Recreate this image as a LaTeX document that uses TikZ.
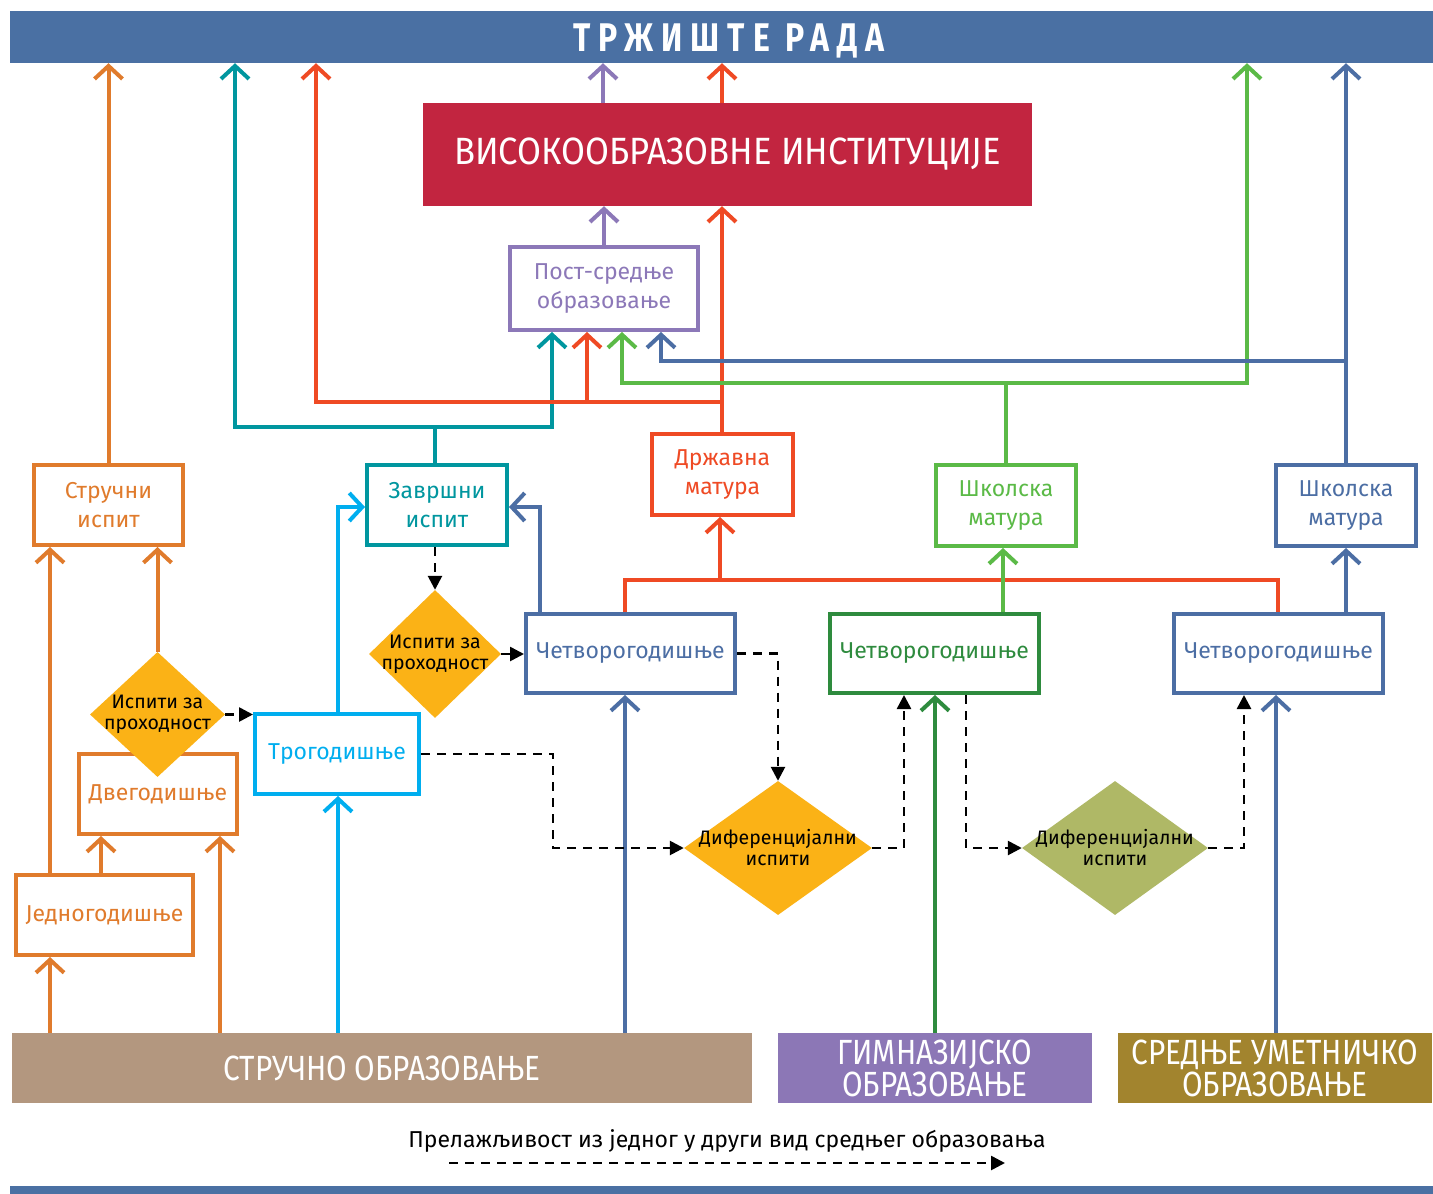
\documentclass[tikz,border=0pt]{standalone}
\usepackage{fontspec}
\setmainfont{Fira Sans}
\newfontfamily\bxfont{Fira Sans}
\newfontfamily\cfont[FakeStretch=0.85]{Fira Sans}
\newfontfamily\vfont[FakeStretch=0.91]{Fira Sans}
\newfontfamily\ttlfont[FakeStretch=0.8,LetterSpace=20]{Fira Sans}
\usetikzlibrary{arrows.meta,shapes.geometric}
\definecolor{topblue}{HTML}{4A70A3}
\definecolor{crim}{HTML}{C22540}
\definecolor{purp}{HTML}{8C78B8}
\definecolor{orng}{HTML}{E07B2C}
\definecolor{teal2}{HTML}{00969F}
\definecolor{redd}{HTML}{EF4A24}
\definecolor{lgreen}{HTML}{5BBA47}
\definecolor{blu}{HTML}{4C6EA4}
\definecolor{cyan2}{HTML}{00AEEF}
\definecolor{dgreen}{HTML}{2E8B3E}
\definecolor{yel}{HTML}{FBB216}
\definecolor{olive2}{HTML}{AFB866}
\definecolor{tan2}{HTML}{B3977F}
\definecolor{gymp}{HTML}{8C77B6}
\definecolor{artg}{HTML}{A2842E}
\begin{document}
\begin{tikzpicture}[x=1pt,y=-1pt,
  >={Straight Barb[length=13pt,width=28pt]},
  bx/.style={draw=#1,text=#1,line width=4pt,fill=white,align=center,inner sep=0pt,font=\bxfont\fontsize{23}{29}\selectfont},
  bar/.style={fill=#1,text=white,inner sep=0pt,align=center,font=\cfont\fontsize{35}{32}\selectfont},
  cn/.style={draw=#1,line width=4pt},
  dsh/.style={draw=black,line width=2.6pt,dash pattern=on 9pt off 7pt,-{Triangle[length=14pt,width=14pt]}},
  dmd/.style={diamond,fill=#1,inner sep=0pt},
  dtext/.style={font=\bxfont\fontsize{19.5}{21}\selectfont,align=center,text=black}]
\useasboundingbox (0,0) rectangle (1433,1194);
\fill[white] (0,0) rectangle (1433,1194);
% x / y helper coordinates
\foreach \xx in {50,101,157,220,235,316,338,435,540,552,553,587,603,622,625,661,720,722,778,904,935,966,1003,1006,1244,1247,1276,1278,1346}{\coordinate (x\xx) at (\xx,0);}
\foreach \yy in {361,383,402,427,507,580,848}{\coordinate (y\yy) at (0,\yy);}
% bars
\node[fill=topblue,minimum width=1423pt,minimum height=52pt,inner sep=0pt] (market) at (721.5,37) {};
\node[inner sep=0pt,text=white,text height=28pt,text depth=0pt,font=\ttlfont\bfseries\fontsize{40}{40}\selectfont] (title) at (729,37) {ТРЖИШТЕ РАДА};
\node[fill=topblue,minimum width=1423pt,minimum height=8pt,inner sep=0pt] (botline) at (721.5,1190) {};
\node[fill=crim,minimum width=609pt,minimum height=103pt,inner sep=0pt,text=white,font=\vfont\fontsize{38}{40}\selectfont] (ved) at (727.5,154.5) {ВИСОКООБРАЗОВНЕ ИНСТИТУЦИЈЕ};
\node[bar=tan2,minimum width=740pt,minimum height=70pt] (strucno) at (382,1068) {СТРУЧНО ОБРАЗОВАЊЕ};
\node[bar=gymp,minimum width=314pt,minimum height=70pt] (gim) at (935,1068) {ГИМНАЗИЈСКО\\ОБРАЗОВАЊЕ};
\node[bar=artg,minimum width=314pt,minimum height=70pt] (umet) at (1275,1068) {СРЕДЊЕ УМЕТНИЧКО\\ОБРАЗОВАЊЕ};
% boxes
\node[bx=purp,minimum width=188pt,minimum height=83pt] (post) at (604,288.5) {Пост-средње\\образовање};
\node[bx=orng,minimum width=149pt,minimum height=80pt] (strucni) at (108.5,505) {Стручни\\испит};
\node[bx=teal2,minimum width=140pt,minimum height=80pt] (zavrsni) at (437,505) {Завршни\\испит};
\node[bx=redd,minimum width=141pt,minimum height=81pt] (drzavna) at (722.5,474.5) {Државна\\матура};
\node[bx=lgreen,minimum width=140pt,minimum height=81pt] (skolG) at (1006,505.5) {Школска\\матура};
\node[bx=blu,minimum width=140pt,minimum height=81pt] (skolB) at (1346,505.5) {Школска\\матура};
\node[bx=blu,minimum width=209pt,minimum height=79pt] (cetv1) at (630.5,653.5) {Четворогодишње};
\node[bx=dgreen,minimum width=209pt,minimum height=79pt] (cetv2) at (934.5,653.5) {Четворогодишње};
\node[bx=blu,minimum width=209pt,minimum height=79pt] (cetv3) at (1278.5,653.5) {Четворогодишње};
\node[bx=cyan2,minimum width=164pt,minimum height=80pt] (trogod) at (337,754) {Трогодишње};
\node[bx=orng,minimum width=158pt,minimum height=80pt] (dvegod) at (158,794) {Двегодишње};
\node[bx=orng,minimum width=177pt,minimum height=80pt] (jednogod) at (104.5,915) {Једногодишње};
% diamonds
\node[dmd=yel,minimum width=135pt,minimum height=125pt] (dp1) at (157.5,714.5) {};
\node[dtext] (dp1t) at (dp1) {Испити за\\проходност};
\node[dmd=yel,minimum width=132pt,minimum height=128pt] (dp2) at (435,654) {};
\node[dtext] (dp2t) at (dp2) {Испити за\\проходност};
\node[dmd=yel,minimum width=188pt,minimum height=134pt] (df1) at (778,848) {};
\node[dtext] (df1t) at (df1) {Диференцијални\\испити};
\node[dmd=olive2,minimum width=186pt,minimum height=134pt] (df2) at (1115,848) {};
\node[dtext] (df2t) at (df2) {Диференцијални\\испити};
% orange connectors
\draw[cn=orng,->] (strucni.north) -- (strucni.north |- market.south);
\draw[cn=orng,->] (x50 |- strucno.north) -- (x50 |- jednogod.south);
\draw[cn=orng,->] (x50 |- jednogod.north) -- (x50 |- strucni.south);
\draw[cn=orng,->] (x101 |- jednogod.north) -- (x101 |- dvegod.south);
\draw[cn=orng,->] (x220 |- strucno.north) -- (x220 |- dvegod.south);
\draw[cn=orng,->] (dp1.north) -- (dp1.north |- strucni.south);
% cyan
\draw[cn=cyan2,->] (x338 |- strucno.north) -- (x338 |- trogod.south);
\draw[cn=cyan2,->] (x338 |- trogod.north) |- (zavrsni.west |- y507);
% teal
\draw[cn=teal2,<->] (x235 |- market.south) |- (x552 |- y427) -- (x552 |- post.south);
\draw[cn=teal2] (x435 |- zavrsni.north) -- (x435 |- y427);
% red
\draw[cn=redd,->] (x722 |- drzavna.north) -- (x722 |- ved.south);
\draw[cn=redd,->] (x722 |- ved.north) -- (x722 |- market.south);
\draw[cn=redd,<-] (x316 |- market.south) |- (x722 |- y402);
\draw[cn=redd,->] (x587 |- y402) -- (x587 |- post.south);
\draw[cn=redd] (x625 |- cetv1.north) |- (x1278 |- y580) -- (x1278 |- cetv3.north);
\draw[cn=redd,->] (x720 |- y580) -- (x720 |- drzavna.south);
% purple
\draw[cn=purp,->] (post.north) -- (post.north |- ved.south);
\draw[cn=purp,->] (x603 |- ved.north) -- (x603 |- market.south);
% green
\draw[cn=lgreen,<->] (x622 |- post.south) |- (x1247 |- y383) -- (x1247 |- market.south);
\draw[cn=lgreen] (x1006 |- skolG.north) -- (x1006 |- y383);
\draw[cn=lgreen,->] (x1003 |- cetv2.north) -- (x1003 |- skolG.south);
\draw[cn=dgreen,->] (x935 |- gim.north) -- (x935 |- cetv2.south);
% blue
\draw[cn=blu,->] (skolB.north) -- (skolB.north |- market.south);
\draw[cn=blu,<-] (x661 |- post.south) |- (x1346 |- y361);
\draw[cn=blu,->] (x1346 |- cetv3.north) -- (x1346 |- skolB.south);
\draw[cn=blu,->] (x1276 |- umet.north) -- (x1276 |- cetv3.south);
\draw[cn=blu,->] (x625 |- strucno.north) -- (x625 |- cetv1.south);
\draw[cn=blu,->] (x540 |- cetv1.north) |- (zavrsni.east |- y507);
% dashed
\draw[dsh] (x435 |- zavrsni.south) -- (dp2.north);
\draw[dsh] (dp2.east) -- (dp2.east -| cetv1.west);
\draw[dsh] (dp1.east) -- (dp1.east -| trogod.west);
\draw[dsh] (cetv1.east) -| (df1.north);
\draw[dsh] (trogod.east) -| (x553 |- y848) -- (df1.west);
\draw[dsh] (df1.east) -| (x904 |- cetv2.south);
\draw[dsh] (x966 |- cetv2.south) |- (df2.west);
\draw[dsh] (df2.east) -| (x1244 |- cetv3.south);
% legend
\node[font=\bxfont\fontsize{23}{25}\selectfont] (leg) at (727,1141) {Прелажљивост из једног у други вид средњег образовања};
\coordinate (legA) at (449,1163);
\coordinate (legB) at (1005,1163);
\draw[dsh] (legA) -- (legB);
\end{tikzpicture}
\end{document}
